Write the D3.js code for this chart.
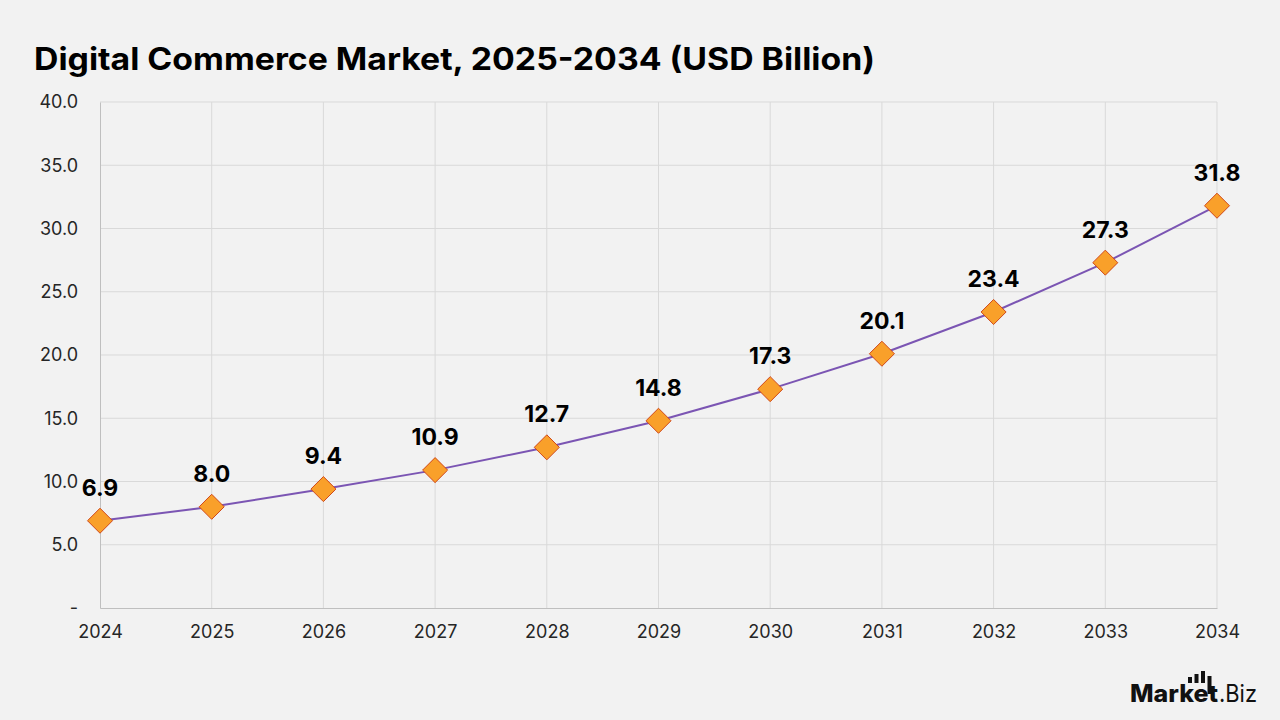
<!DOCTYPE html>
<html>
<head>
<meta charset="utf-8">
<script src="https://cdn.jsdelivr.net/npm/d3@7"></script>
<style>
  body { margin: 0; background: #f2f2f2; }
  svg { display: block; font-family: "Inter", "Open Sans", sans-serif; }
</style>
</head>
<body>
<div id="chart"></div>
<script>
// data
const years = ["2024", "2025", "2026", "2027", "2028", "2029", "2030", "2031", "2032", "2033", "2034"];
const values = [6.9, 8.0, 9.4, 10.9, 12.7, 14.8, 17.3, 20.1, 23.4, 27.3, 31.8];
const yTicks = [0, 5, 10, 15, 20, 25, 30, 35, 40];
const title = "Digital Commerce Market, 2025-2034 (USD Billion)";

const W = 1280, H = 720;
const margin = { top: 102, right: 63, bottom: 112, left: 100 };
const width = W - margin.left - margin.right;
const height = H - margin.top - margin.bottom;

const svg = d3.select("#chart").append("svg")
    .attr("width", W)
    .attr("height", H);

svg.append("rect").attr("width", W).attr("height", H).attr("fill", "#f2f2f2");

svg.append("text")
    .attr("x", 34)
    .attr("y", 70)
    .attr("font-size", 31)
    .attr("font-weight", 700)
    .attr("fill", "#000")
    .attr("textLength", 841)
    .attr("lengthAdjust", "spacingAndGlyphs")
    .text(title);

const g = svg.append("g").attr("transform", `translate(${margin.left},${margin.top})`);

const x = d3.scalePoint().domain(years).range([0, width]);
const y = d3.scaleLinear().domain([0, 40]).range([height, 0]);

// grid
g.selectAll("line.hgrid")
    .data(yTicks.slice(1))
    .enter().append("line")
    .attr("class", "hgrid")
    .attr("x1", 0).attr("x2", width)
    .attr("y1", d => y(d)).attr("y2", d => y(d))
    .attr("stroke", "#d9d9d9").attr("stroke-width", 1);

g.selectAll("line.vgrid")
    .data(years.slice(1))
    .enter().append("line")
    .attr("class", "vgrid")
    .attr("x1", d => x(d)).attr("x2", d => x(d))
    .attr("y1", 0).attr("y2", height)
    .attr("stroke", "#d9d9d9").attr("stroke-width", 1);

// axes
const yAxis = g.append("g")
    .call(d3.axisLeft(y).tickValues(yTicks).tickSize(0).tickPadding(22)
        .tickFormat(d => d === 0 ? "-" : d3.format(".1f")(d)));
yAxis.select(".domain").attr("stroke", "#bfbfbf");
yAxis.selectAll("text").attr("font-size", 18).attr("fill", "#262626").attr("font-family", "Inter, sans-serif");

const xAxis = g.append("g")
    .attr("transform", `translate(0,${height})`)
    .call(d3.axisBottom(x).tickSize(0).tickPadding(17));
xAxis.select(".domain").attr("stroke", "#bfbfbf");
xAxis.selectAll("text").attr("font-size", 18).attr("fill", "#262626").attr("font-family", "Inter, sans-serif");

// line
const points = years.map((yr, i) => ({ year: yr, value: values[i] }));
const line = d3.line().x(d => x(d.year)).y(d => y(d.value));

g.append("path")
    .datum(points)
    .attr("d", line)
    .attr("fill", "none")
    .attr("stroke", "#7b55b3")
    .attr("stroke-width", 2);

// diamond markers
g.selectAll("path.marker")
    .data(points)
    .enter().append("path")
    .attr("class", "marker")
    .attr("d", d3.symbol().type(d3.symbolDiamond2).size(400))
    .attr("transform", d => `translate(${x(d.year)},${y(d.value)})`)
    .attr("fill", "#f9a02a")
    .attr("stroke", "#d0481a")
    .attr("stroke-width", 1);

// value labels
g.selectAll("text.val")
    .data(points)
    .enter().append("text")
    .attr("class", "val")
    .attr("x", d => x(d.year))
    .attr("y", d => y(d.value) - 25)
    .attr("text-anchor", "middle")
    .attr("font-size", 23)
    .attr("font-weight", 700)
    .attr("fill", "#000")
    .text(d => d.value.toFixed(1));

// logo
const logo = svg.append("g").attr("transform", "translate(1130,702)");
logo.append("text")
    .attr("x", 0).attr("y", 0)
    .attr("font-size", 24)
    .attr("font-weight", 800)
    .attr("fill", "#111")
    .attr("textLength", 88)
    .attr("lengthAdjust", "spacingAndGlyphs")
    .text("Market");
logo.append("text")
    .attr("x", 89).attr("y", 0)
    .attr("font-size", 24)
    .attr("font-weight", 400)
    .attr("fill", "#111")
    .attr("textLength", 38)
    .attr("lengthAdjust", "spacingAndGlyphs")
    .text(".Biz");
const bars = [6, 9, 12, 18];
logo.selectAll("rect")
    .data(bars)
    .enter().append("rect")
    .attr("x", (d, i) => 58 + i * 6.5)
    .attr("y", (d, i) => i === 3 ? -20 - d + 12 : -19 - d)
    .attr("width", 4)
    .attr("height", d => d)
    .attr("fill", "#111");
</script>
</body>
</html>
